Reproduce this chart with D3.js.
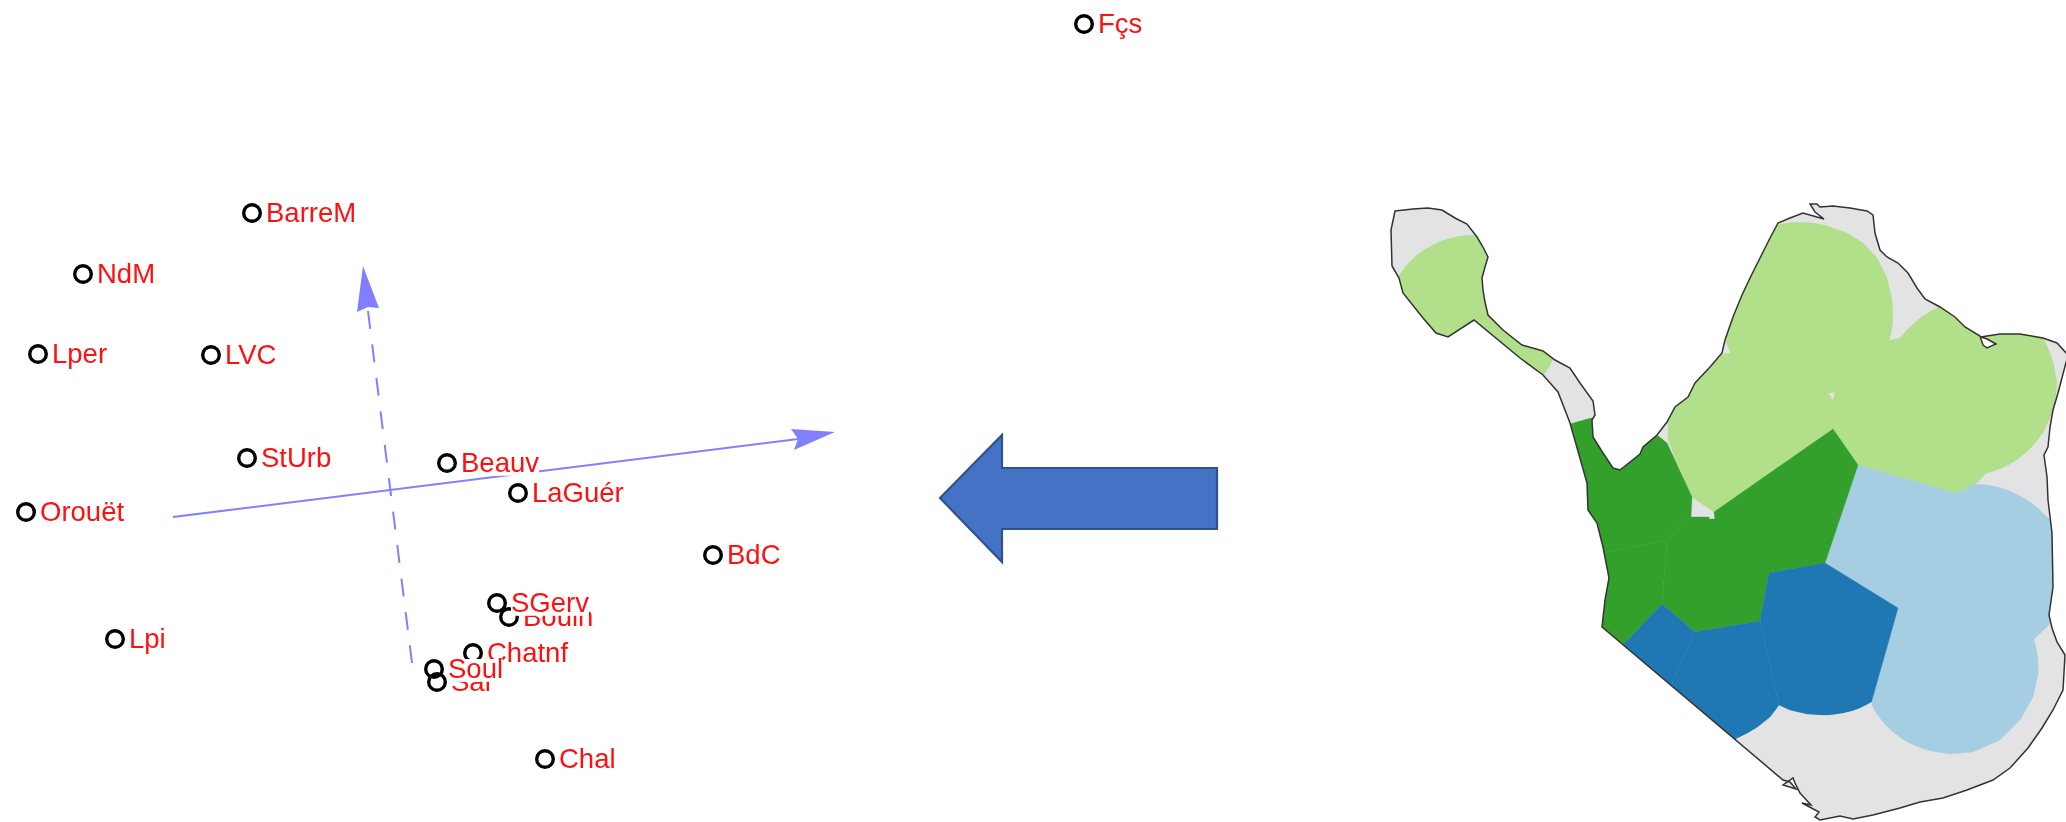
<!DOCTYPE html>
<html lang="en">
  <head>
    <meta charset="UTF-8">
    <title>Stations PCA and map</title>
    <script src="https://d3js.org/d3.v7.min.js"></script>
    <style>
      body { margin: 0; padding: 0; background-color: #fff; }
      svg { display: block; filter: blur(0.6px); }
      .site-label { font-family: 'Liberation Sans', Arial, sans-serif; font-size: 27.5px; fill: #ff1010; }
    </style>
  </head>
  <body>
    <script>
      // stations on the first two components, back to front
      const stations = ["BarreM", "NdM", "Lper", "LVC", "StUrb", "Orouët", "Fçs", "Beauv", "LaGuér", "BdC", "Bouln", "SGerv", "Sal", "Chatnf", "Soul", "Chal", "Lpi"];
      const pc1 = [-1.36, -3.05, -3.50, -1.77, -1.41, -3.62, 6.96, 0.59, 1.30, 3.25, 1.21, 1.09, 0.49, 0.85, 0.46, 1.57, -2.73];
      const pc2 = [2.76, 2.15, 1.35, 1.34, 0.31, -0.23, 4.65, 0.26, -0.04, -0.66, -1.28, -1.14, -1.93, -1.64, -1.80, -2.70, -1.50];

      // component axes [pc1, pc2]
      const axisOne = [[-2.15, -0.28], [4.10, 0.50]];
      const axisOneHead = [[4.47, 0.57], [4.03, 0.60], [4.10, 0.50], [4.06, 0.39]];
      const axisTwo = [[-0.20, 1.78], [0.24, -1.74]];
      const axisTwoHead = [[-0.25, 2.23], [-0.09, 1.81], [-0.20, 1.82], [-0.31, 1.77]];

      // big block arrow between the two panels
      const blockArrow = [[5.52, -0.09], [6.14, 0.54], [6.14, 0.21], [8.29, 0.21], [8.29, -0.40], [6.14, -0.40], [6.14, -0.73]];

      // map outline, traced, map units
      const outline = [[15,21],[33,19],[48,18],[62,20],[75,28],[87,34],[97,47],[103,57],[108,67],[105,77],[102,88],[103,100],[105,112],[108,125],[123,140],[142,155],[163,161],[175,170],[190,178],[200,193],[213,211],[215,225],[212,230],[213,247],[223,263],[233,278],[240,280],[250,272],[260,264],[263,257],[277,245],[287,232],[295,217],[308,207],[315,193],[330,177],[342,163],[345,150],[353,127],[362,105],[370,88],[380,68],[390,48],[398,33],[410,28],[423,23],[444,29],[435,22],[430,14],[437,14],[440,17],[453,16],[470,18],[487,21],[493,25],[495,43],[500,60],[507,67],[518,73],[528,83],[537,98],[545,109],[560,117],[575,127],[585,137],[600,146],[603,155],[607,158],[616,154],[607,149],[601,147],[607,146],[620,144],[640,144],[663,148],[677,153],[688,165],[678,203],[673,220],[670,237],[668,257],[664,265],[667,287],[668,310],[672,343],[673,397],[669,425],[672,438],[677,452],[685,465],[683,500],[673,520],[662,538],[648,558],[630,578],[613,590],[587,600],[563,608],[540,612],[520,618],[493,625],[473,629],[460,626],[440,630],[435,627],[439,622],[422,613],[431,615],[420,603],[415,593],[413,588],[403,595],[416,599],[410,592],[403,590],[222,437],[225,410],[229,388],[223,357],[217,333],[208,320],[207,293],[190,233],[178,202],[163,185],[140,168],[94,130],[68,147],[56,143],[43,128],[23,103],[19,88],[12,76],[11,40]];

      // station areas, one list per class
      const northLeftCell = [[288,230],[288,248],[293,263],[312,307],[334,322],[453,239],[453,211],[448,203],[455,202],[460,202],[507,151],[512,130],[512,110],[507,88],[497,68],[483,53],[467,43],[447,36],[427,33],[410,35],[397,38],[380,50],[340,140],[347,154],[351,163],[338,165],[320,180],[280,225]];
      const northRightCell = [[507,151],[520,148],[527,140],[540,128],[558,117],[580,120],[610,135],[663,135],[663,148],[673,173],[677,193],[675,213],[663,243],[645,263],[627,275],[607,282],[593,297],[575,303],[478,275],[453,239],[453,211],[455,202],[456,195]];
      const eastCell = [[478,275],[575,303],[593,297],[603,296],[623,300],[640,307],[647,310],[660,320],[667,327],[680,340],[680,420],[671,433],[653,450],[658,470],[658,483],[653,507],[640,530],[620,550],[593,562],[570,564],[547,560],[523,548],[507,533],[492,510],[518,418],[445,373]];
      const westUpperCell = [[190,234],[211,228],[230,230],[280,238],[277,245],[287,253],[312,307],[311,327],[307,330],[287,350],[227,362],[210,365],[180,240]];
      const westLowerCell = [[227,362],[287,350],[282,414],[245,453],[242,455],[215,450],[210,365]];
      const centreCell = [[311,327],[329,327],[329,329],[335,329],[334,322],[453,239],[478,275],[445,373],[389,383],[380,431],[315,442],[282,414],[287,350],[307,330]];
      const coastWestCell = [[245,453],[282,414],[315,442],[292,493],[285,500],[235,460]];
      const coastMidCell = [[315,442],[380,431],[399,515],[390,527],[377,537],[357,548],[350,555],[285,500],[292,493]];
      const coastEastCell = [[389,383],[445,373],[518,418],[492,510],[473,520],[447,525],[427,524],[410,520],[399,515],[380,431]];

      const lightGreenCells = [northLeftCell, northRightCell];
      const lightBlueCells = [eastCell];
      const darkGreenCells = [westUpperCell, westLowerCell, centreCell];
      const darkBlueCells = [coastWestCell, coastMidCell, coastEastCell];

      // round edges of the areas: [centre x, centre y, radius], and the polygon each one stays in
      const armCap = [93, 133, 88];
      const armLimit = [[0,0],[185,0],[185,225],[0,225]];
      const northCap = [420, 125, 93];
      const northLimit = [[351,163],[347,154],[340,140],[380,0],[530,0],[530,140],[507,151],[455,202],[448,203],[351,203]];
      const northEastCap = [585, 195, 91];
      const northEastLimit = [[620,120],[700,120],[700,320],[600,320],[600,283]];
      const eastBottomCap = [570, 475, 88];
      const eastBottomLimit = [[492,510],[518,418],[660,420],[660,600],[490,600]];
      const eastTopCap = [595, 386, 92];
      const eastTopLimit = [[590,290],[680,290],[680,420],[590,420]];
      const coastMidCap = [325, 465, 89];
      const coastMidLimit = [[399,515],[357,548],[340,570],[410,570],[420,520]];
      const coastEastCap = [445, 435, 90];
      const coastEastLimit = [[492,510],[399,515],[399,600],[492,600]];

      const lightGreenCaps = [[armCap, armLimit], [northCap, northLimit], [northEastCap, northEastLimit]];
      const lightBlueCaps = [[eastBottomCap, eastBottomLimit], [eastTopCap, eastTopLimit]];
      const darkBlueCaps = [[coastMidCap, coastMidLimit], [coastEastCap, coastEastLimit]];

      const width = 2066, height = 822;
      const svg = d3.select("body").append("svg").attr("width", width).attr("height", height);

      const xScale = d3.scaleLinear().domain([-3.88, 16.78]).range([0, width]);
      const yScale = d3.scaleLinear().domain([4.89, -3.33]).range([0, height]);
      const mapX = d3.scaleLinear().domain([0, 686]).range([1380, 2066]);
      const mapY = d3.scaleLinear().domain([0, 632]).range([190, 822]);

      const plotLine = d3.line().x(d => xScale(d[0])).y(d => yScale(d[1]));
      const mapLine = d3.line().x(d => mapX(d[0])).y(d => mapY(d[1]));

      // map
      const defs = svg.append("defs");
      defs.append("clipPath").attr("id", "land").append("path").attr("d", mapLine(outline) + "Z");
      const map = svg.append("g");
      map.append("path").attr("d", mapLine(outline) + "Z").attr("fill", "#e3e3e3");
      const cells = map.append("g").attr("clip-path", "url(#land)");
      let capCount = 0;
      [[lightGreenCells, lightGreenCaps, "#b2df8a"], [lightBlueCells, lightBlueCaps, "#a6cee3"], [darkGreenCells, [], "#33a02c"], [darkBlueCells, darkBlueCaps, "#1f78b4"]].forEach(([list, caps, color]) => {
        caps.forEach(([cap, limit]) => {
          const id = "cap" + capCount++;
          defs.append("clipPath").attr("id", id).append("path").attr("d", mapLine(limit) + "Z");
          cells.append("circle").attr("clip-path", `url(#${id})`)
            .attr("cx", mapX(cap[0])).attr("cy", mapY(cap[1]))
            .attr("r", mapX(cap[2]) - mapX(0))
            .attr("fill", color);
        });
        cells.selectAll(null).data(list).enter().append("path")
          .attr("d", d => mapLine(d) + "Z")
          .attr("fill", color)
          .attr("stroke", color).attr("stroke-width", 0.4);
      });
      map.append("path").attr("d", mapLine(outline) + "Z")
        .attr("fill", "none").attr("stroke", "#333").attr("stroke-width", 1.5);

      // block arrow
      svg.append("path").attr("d", plotLine(blockArrow) + "Z")
        .attr("fill", "#4472c4").attr("stroke", "#2f528f").attr("stroke-width", 2.2);

      // component axes
      const axisColor = "#8080ff";
      svg.append("path").attr("d", plotLine(axisOne)).attr("fill", "none").attr("stroke", axisColor).attr("stroke-width", 2);
      svg.append("path").attr("d", plotLine(axisOneHead) + "Z").attr("fill", axisColor);
      svg.append("path").attr("d", plotLine(axisTwo)).attr("fill", "none").attr("stroke", axisColor).attr("stroke-width", 2).attr("stroke-dasharray", "18,15.7");
      svg.append("path").attr("d", plotLine(axisTwoHead) + "Z").attr("fill", axisColor);

      // stations: ring, then label on a white box that hides what is under it
      const sites = svg.selectAll(".site").data(stations).enter().append("g").attr("class", "site")
        .attr("transform", (d, i) => `translate(${xScale(pc1[i])},${yScale(pc2[i])})`);
      sites.append("circle").attr("r", 8.3).attr("fill", "none").attr("stroke", "#000").attr("stroke-width", 3.4);
      const boxes = sites.append("rect").attr("fill", "#fff");
      const labels = sites.append("text").attr("class", "site-label").attr("x", 14).attr("y", 9).text(d => d);
      labels.each(function(d, i) {
        const w = this.getComputedTextLength();
        d3.select(boxes.nodes()[i]).attr("x", 14).attr("y", -10).attr("width", w).attr("height", 22.8);
      });
    </script>
  </body>
</html>
